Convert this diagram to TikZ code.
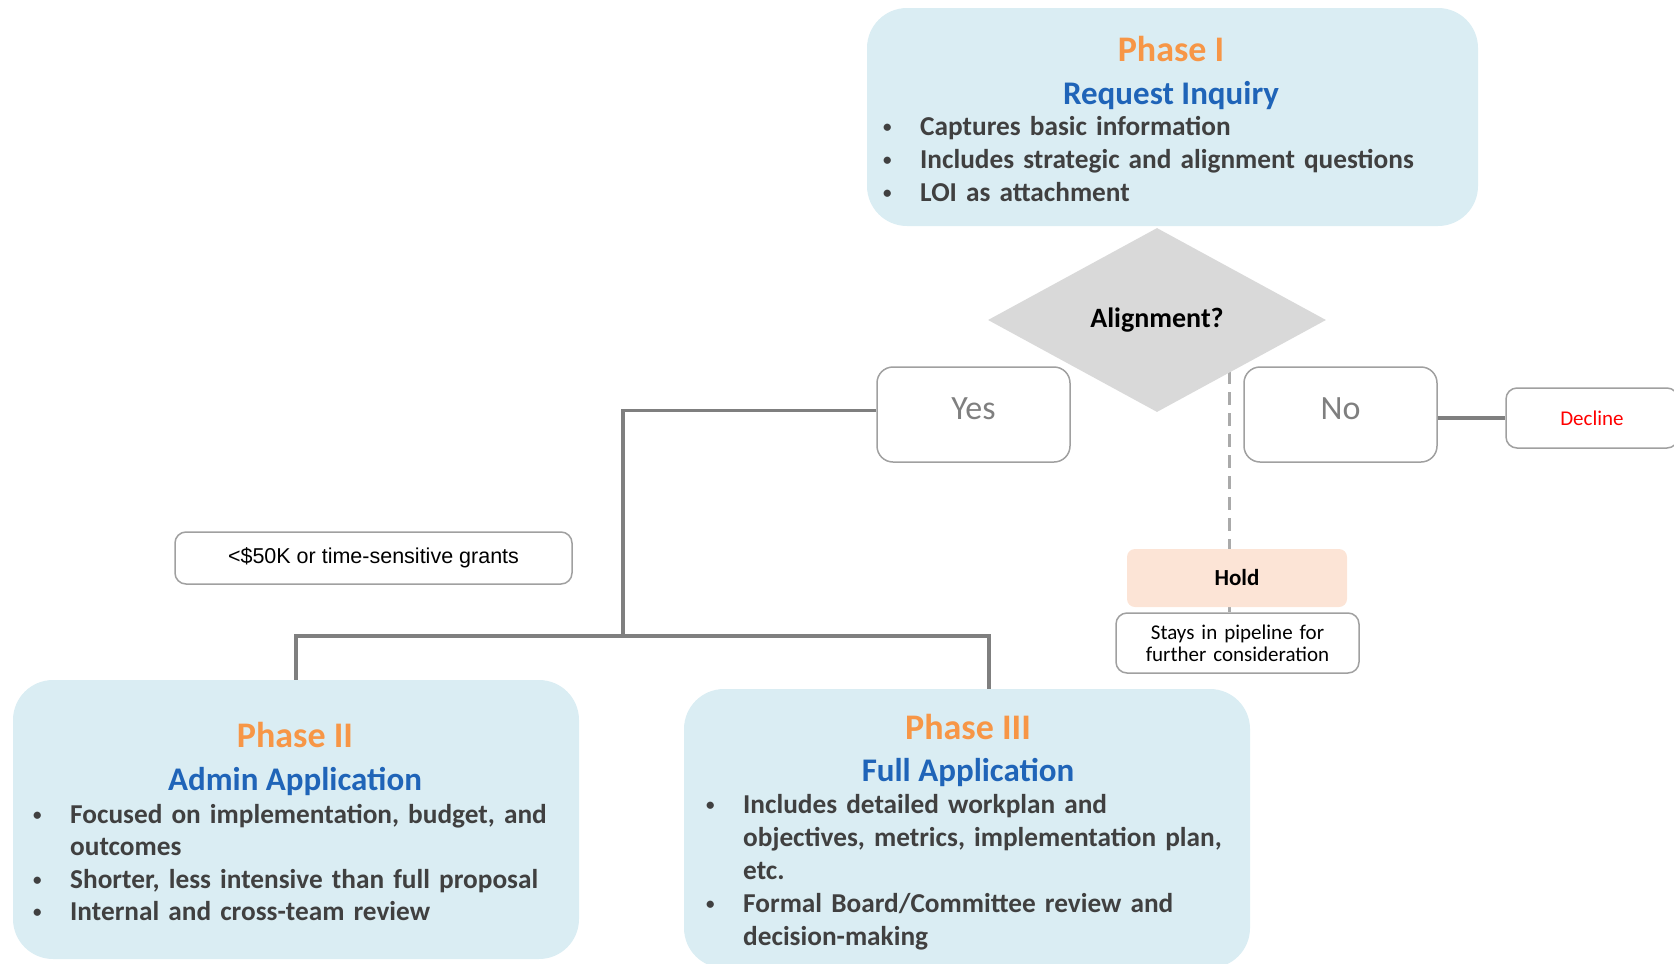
\documentclass[tikz,border=0pt]{standalone}
\usepackage{fontspec}
\setmainfont{Carlito}
\newfontfamily\arialfont{Liberation Sans}
\usetikzlibrary{positioning,shapes.geometric}

\definecolor{phasefill}{RGB}{218,237,243}
\definecolor{phaseorange}{RGB}{247,150,70}
\definecolor{phaseblue}{RGB}{31,100,184}
\definecolor{bodygray}{RGB}{64,64,64}
\definecolor{linkgray}{RGB}{127,127,127}
\definecolor{dashgray}{RGB}{170,170,170}
\definecolor{edgegray}{RGB}{160,160,160}
\definecolor{diafill}{RGB}{217,217,217}
\definecolor{holdfill}{RGB}{252,228,214}
\definecolor{declinered}{RGB}{255,0,0}

% one bullet line with hanging indent
\newcommand\bitem[1]{\hangindent=37pt\hangafter=1\noindent\makebox[37pt][l]{\raisebox{3pt}{\fontsize{17}{17}\selectfont\textbullet}}#1\par}

\tikzset{
	phasebox/.style={rounded corners=40pt, fill=phasefill, inner sep=0pt},
	phasetitle/.style={anchor=base, text=phaseorange, font=\fontsize{36}{40}\selectfont\bfseries},
	phasesub/.style={anchor=base, text=phaseblue, font=\fontsize{33}{38}\selectfont\bfseries},
	bullets/.style={anchor=base west, inner sep=0pt, text width=560pt, align=left, text=bodygray, font=\fontsize{27.3}{33}\selectfont\bfseries},
	choicebox/.style={draw=edgegray, line width=1.5pt, rounded corners=16pt, text=linkgray, font=\fontsize{34}{38}\selectfont, minimum width=193pt, minimum height=95pt},
	notebox/.style={draw=edgegray, line width=1.5pt, rounded corners=11pt, inner sep=0pt},
	holdbox/.style={fill=holdfill, rounded corners=8pt, minimum width=220pt, minimum height=58pt, font=\fontsize{23}{26}\selectfont\bfseries},
	link/.style={draw=linkgray, line width=3.5pt},
	holdlink/.style={draw=dashgray, line width=3pt, dash pattern=on 13pt off 8pt},
}

\begin{document}
\begin{tikzpicture}[x=1pt,y=-1pt]
	\useasboundingbox (0,0) rectangle (1674,964);
	\clip (0,0) rectangle (1674,964);

	% phase I
	\node[phasebox, minimum width=611pt, minimum height=218pt] (p1) at (1172.5,117) {};
	\node[phasetitle] (p1title) at (1171,61) {Phase I};
	\node[phasesub] (p1sub) at (1171,104) {Request Inquiry};
	\node[bullets] (p1list) at (883,135) {%
		\bitem{Captures basic information}%
		\bitem{Includes strategic and alignment questions}%
		\bitem{LOI as attachment}};

	% decision
	\node[notebox, text width=243pt, minimum height=60pt, align=center, font=\fontsize{21}{22}\selectfont] (stays) at (1237.5,643) {Stays in pipeline for\\further consideration};
	\coordinate (holdsplit) at (1229,350);
	\draw[holdlink] (holdsplit) -- (holdsplit |- stays.north);
	\node[diamond, fill=diafill, minimum width=338pt, minimum height=184pt, inner sep=0pt, font=\fontsize{28}{32}\selectfont\bfseries] (align) at (1157,320) {Alignment?};
	\node[holdbox] (hold) at (1237,578) {Hold};

	\node[choicebox] (yes) at (973.5,414.5) {\raisebox{11pt}{Yes}};
	\node[choicebox] (no) at (1340.5,414.5) {\raisebox{11pt}{No}};
	\node[notebox, minimum width=172pt, minimum height=60pt, text=declinered, font=\fontsize{21}{24}\selectfont] (decline) at (1592,418) {Decline};
	\draw[link] (no.east |- decline.west) -- (decline.west);

	\node[notebox, minimum width=397pt, minimum height=52pt, font=\arialfont\fontsize{21.5}{24}\selectfont] (small) at (373.5,558) {<\$50K or time-sensitive grants};

	% phase II
	\node[phasebox, minimum width=566pt, minimum height=279pt] (p2) at (296,819.5) {};
	\node[phasetitle] (p2title) at (295,747) {Phase II};
	\node[phasesub] (p2sub) at (295,790) {Admin Application};
	\node[bullets, font=\fontsize{27.3}{32.5}\selectfont\bfseries] (p2list) at (33,823) {%
		\bitem{Focused on implementation, budget, and\newline outcomes}%
		\bitem{Shorter, less intensive than full proposal}%
		\bitem{Internal and cross-team review}};

	% phase III
	\node[phasebox, minimum width=566pt, minimum height=279pt] (p3) at (967,828.5) {};
	\node[phasetitle] (p3title) at (968,739) {Phase III};
	\node[phasesub] (p3sub) at (968,781) {Full Application};
	\node[bullets] (p3list) at (706,813) {%
		\bitem{Includes detailed workplan and\newline objectives, metrics, implementation plan,\newline etc.}%
		\bitem{Formal Board/Committee review and\newline decision-making}};

	% connectors
	\coordinate (fork) at (623,636);
	\draw[link] ([yshift=4pt]yes.west) -| (fork);
	\draw[link] (p2.north) |- (fork) -| ([xshift=22pt]p3.north);
\end{tikzpicture}
\end{document}
